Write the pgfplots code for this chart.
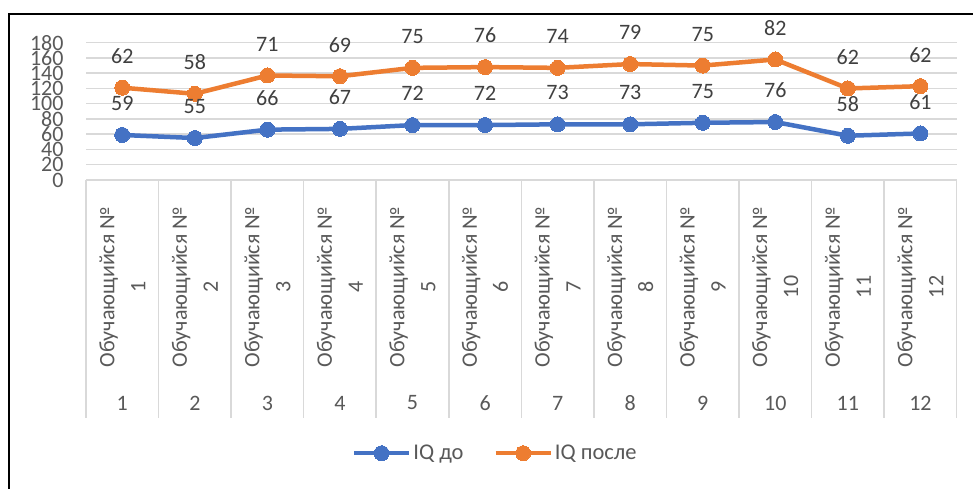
\documentclass[border=0pt]{standalone}
\usepackage{fontspec}
\setmainfont{Carlito}
\usepackage{pgfplots}
\usepackage{pgfplotstable}
\pgfplotsset{compat=1.18}
\definecolor{cblue}{HTML}{4472C4}
\definecolor{corange}{HTML}{ED7D31}
\definecolor{cgrid}{HTML}{D9D9D9}
\definecolor{ctext}{HTML}{595959}
\definecolor{clabel}{HTML}{404040}
\pgfplotstableread{
x b a
1 59 62
2 55 58
3 66 71
4 67 69
5 72 75
6 72 76
7 73 74
8 73 79
9 75 75
10 76 82
11 58 62
12 61 62
}\data
\begin{document}
\begin{tikzpicture}[x=1bp,y=1bp]
\useasboundingbox (0,0) rectangle (973,489);
\fill[white] (0,0) rectangle (973,489);
\draw[line width=2.2bp, line cap=rect] (9,0) -- (9,475) -- (973,475);
\begin{axis}[
  at={(86bp,309bp)}, anchor=south west,
  scale only axis, width=870.7bp, height=137.3bp,
  clip=false,
  xmin=0.5, xmax=12.5, ymin=0, ymax=180,
  stack plots=y,
  /pgf/number format/assume math mode=true,
  axis line style={draw=none},
  major tick length=0pt,
  xtick={1,...,12},
  xticklabels={{Обучающийся №\\1},{Обучающийся №\\2},{Обучающийся №\\3},{Обучающийся №\\4},{Обучающийся №\\5},{Обучающийся №\\6},{Обучающийся №\\7},{Обучающийся №\\8},{Обучающийся №\\9},{Обучающийся №\\10},{Обучающийся №\\11},{Обучающийся №\\12}},
  xticklabel style={rotate=90, anchor=center, align=center, font=\fontsize{22bp}{31bp}\selectfont, text=ctext},
  xticklabel shift=107bp,
  ytick={0,20,...,180},
  yticklabel style={font=\fontsize{22bp}{22bp}\selectfont, text=ctext},
  yticklabel shift=19bp,
  ymajorgrids, grid style={cgrid, line width=1.5bp},
  legend columns=2,
  legend style={draw=none, fill=none, at={(0.470,-1.99)}, anchor=center,
    font=\fontsize{22.5bp}{22.5bp}\selectfont, text=ctext,
    /tikz/every even column/.append style={column sep=28bp}},
  legend image code/.code={\draw[mark repeat=2, mark phase=2, #1] plot coordinates {(0bp,0bp) (27.5bp,0bp) (55bp,0bp)};},
  nodes near coords,
  point meta=explicit,
  every node near coord/.append style={anchor=center, yshift=31.5bp, font=\fontsize{22bp}{22bp}\selectfont, text=clabel},
]
\pgfplotsinvokeforeach{0.5,1.5,2.5,3.5,4.5,5.5,6.5,7.5,8.5,9.5,10.5,11.5,12.5}{
  \draw[cgrid, line width=1.5bp] (axis cs:#1,0) -- ([yshift=-238bp]axis cs:#1,0);
}
\pgfplotsinvokeforeach{1,...,12}{
  \node[font=\fontsize{22bp}{22bp}\selectfont, text=ctext] at ([yshift=-223bp]axis cs:#1,0) {#1};
}
\addplot[cblue, line width=4.5bp, mark=*, mark size=7.5bp, mark options={fill=cblue, draw=cblue, line width=0pt}] table[x=x, y=b, meta=b] {\data};
\addlegendentry{IQ до}
\addplot[corange, line width=4.5bp, mark=*, mark size=7.5bp, mark options={fill=corange, draw=corange, line width=0pt}] table[x=x, y=a, meta=a] {\data};
\addlegendentry{IQ после}
\end{axis}
\end{tikzpicture}
\end{document}
